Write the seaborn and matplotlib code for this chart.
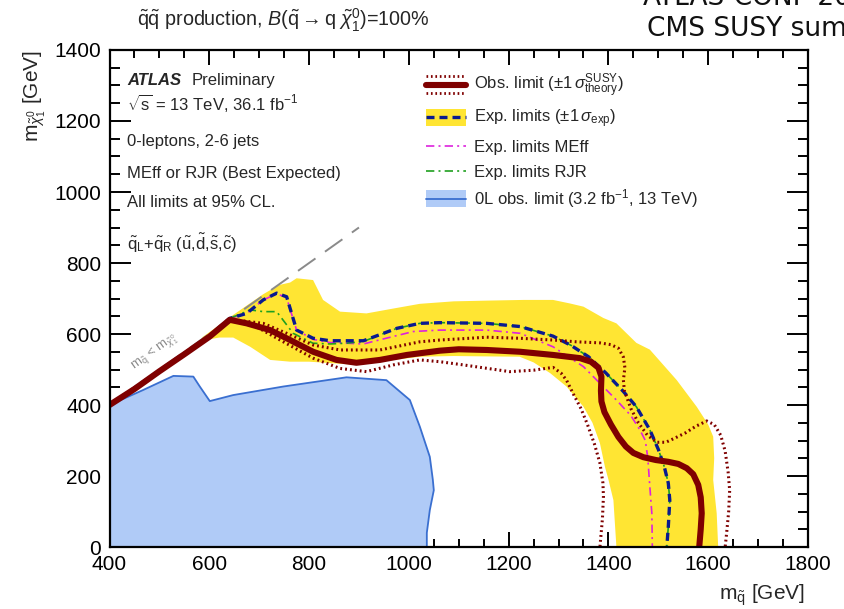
import matplotlib
matplotlib.use("Agg")
import matplotlib.pyplot as plt
import seaborn as sns
from matplotlib.lines import Line2D
from matplotlib.patches import Rectangle
from matplotlib.legend_handler import HandlerBase
from matplotlib.ticker import MultipleLocator

# ---- exclusion contours (m_squark, m_neutralino) in GeV ----
obs_x = [400, 450, 500, 550, 600, 641, 675, 722, 762, 808, 855, 895, 942, 996, 1062,
         1100, 1156, 1223, 1289, 1343, 1365, 1380, 1386, 1385, 1386, 1392, 1405, 1420,
         1435, 1450, 1470, 1495, 1520, 1540, 1557, 1570, 1580, 1585, 1587, 1585, 1582]
obs_y = [400, 445, 495, 543, 592, 640, 630, 611, 583, 550, 527, 519, 527, 541, 553,
         557, 555, 550, 541, 532, 522, 505, 480, 440, 410, 380, 345, 310,
         283, 265, 253, 245, 240, 234, 222, 205, 175, 140, 95, 50, 0]

obs_up_x = [400, 500, 600, 641, 655, 708, 755, 808, 862, 942, 1022, 1062, 1122, 1156,
            1222, 1289, 1336, 1383, 1405, 1420, 1430, 1433, 1430, 1432, 1445, 1460,
            1478, 1497, 1515, 1535, 1555, 1575, 1597, 1612, 1625, 1634, 1640, 1643,
            1641, 1637, 1634]
obs_up_y = [400, 495, 592, 640, 639, 630, 602, 569, 555, 555, 578, 583, 588, 591,
            588, 583, 578, 575, 570, 560, 535, 505, 470, 440, 390, 350,
            315, 295, 295, 308, 322, 340, 355, 345, 315, 270, 210, 160,
            100, 40, 0]

obs_dn_x = [400, 500, 600, 641, 648, 695, 742, 808, 862, 915, 969, 1022, 1062, 1109,
            1202, 1250, 1289, 1305, 1316, 1330, 1345, 1358, 1372, 1383, 1389, 1390,
            1388, 1383]
obs_dn_y = [400, 495, 592, 640, 637, 620, 583, 532, 503, 494, 513, 527, 522, 513,
            494, 498, 506, 490, 470, 430, 390, 345, 290, 236, 180, 142, 80, 0]

exp_x = [400, 500, 600, 641, 675, 708, 735, 755, 765, 775, 808, 842, 909, 976, 1022,
         1062, 1156, 1223, 1289, 1325, 1360, 1395, 1430, 1456, 1483, 1500, 1512, 1520,
         1523, 1520, 1517]
exp_y = [400, 497, 595, 644, 658, 696, 715, 705, 658, 611, 588, 581, 581, 616, 630,
         632, 630, 621, 594, 568, 536, 490, 438, 395, 330, 275, 226, 180,
         132, 57, 0]

meff_x = [400, 500, 600, 641, 675, 708, 735, 755, 765, 775, 808, 842, 909, 960, 1009,
          1062, 1156, 1223, 1289, 1350, 1416, 1445, 1463, 1474, 1479, 1482, 1487, 1488]
meff_y = [400, 497, 595, 644, 658, 696, 713, 703, 656, 611, 585, 576, 572, 590, 607,
          611, 611, 602, 564, 508, 414, 370, 330, 300, 250, 189, 95, 0]

rjr_x = [400, 500, 600, 641, 660, 682, 708, 735, 748, 768, 808, 842, 875, 909, 976,
         1022, 1062, 1156, 1223, 1289, 1325, 1360, 1395, 1430, 1456, 1483, 1500, 1512,
         1520, 1523, 1520, 1517]
rjr_y = [400, 497, 595, 644, 655, 668, 663, 663, 639, 602, 574, 572, 574, 579, 616,
         630, 632, 630, 621, 594, 568, 536, 490, 438, 395, 330, 275, 226,
         180, 132, 57, 0]

# +-1 sigma expected band: outer edge then inner edge, as one closed outline
band_x = [585, 620, 642, 675, 708, 740, 762, 775, 808, 818, 828, 862, 915, 970, 1022,
          1090, 1156, 1230, 1289, 1323, 1350, 1390, 1416, 1456, 1483, 1537, 1577, 1600,
          1610, 1612, 1610, 1617, 1620,
          1416, 1410, 1400, 1393, 1383, 1368, 1350, 1316, 1283, 1250, 1222, 1150, 1090,
          1022, 960, 900, 875, 800, 762, 722, 682, 648, 620, 600]
band_y = [590, 625, 648, 680, 712, 738, 745, 757, 752, 724, 696, 663, 658, 672, 685,
          692, 694, 696, 696, 686, 677, 645, 630, 575, 556, 470, 395, 345,
          311, 250, 189, 95, 0,
          0, 132, 190, 226, 292, 350, 395, 452, 490, 520, 536, 537, 538,
          536, 525, 514, 515, 522, 522, 527, 564, 590, 590, 585]

# earlier 3.2 fb-1 result (filled excluded region)
old_x = [400, 400, 467, 528, 568, 581, 601, 648, 748, 875, 955, 1002, 1022, 1042,
         1048, 1050, 1042, 1036, 1036]
old_y = [0, 400, 442, 482, 480, 452, 411, 428, 452, 478, 470, 414, 339, 254,
         190, 160, 104, 40, 0]

# kinematic boundary m_neutralino = m_squark
diag_x = [400, 900]
diag_y = [400, 900]

x_ticks = [400, 600, 800, 1000, 1200, 1400, 1600, 1800]
y_ticks = [0, 200, 400, 600, 800, 1000, 1200, 1400]

# ---- colours ----
C_OBS = "#7f0000"
C_EXP = "#0a1a8f"
C_BAND = "#ffe533"
C_MEFF = "#dd22dd"
C_RJR = "#1fa01f"
C_OLD_FILL = "#b0cbf7"
C_OLD_LINE = "#3a6fd0"
FS = 12

sns.set_theme(style="ticks")
plt.rcParams["font.family"] = ["Liberation Sans", "DejaVu Sans"]
plt.rcParams["mathtext.fontset"] = "custom"
plt.rcParams["mathtext.rm"] = "Liberation Sans"
plt.rcParams["mathtext.it"] = "Liberation Sans:italic"
plt.rcParams["mathtext.bf"] = "Liberation Sans:bold"
plt.rcParams["mathtext.sf"] = "Liberation Sans"

fig = plt.figure(figsize=(8.45, 6.09), dpi=100)
ax = fig.add_axes([0.1296, 0.1018, 0.8266, 0.8161])


def line(x, y, **kw):
    sns.lineplot(x=x, y=y, sort=False, estimator=None, ax=ax, legend=False, **kw)
    return ax.lines[-1]


# earlier result
ax.fill(old_x, old_y, color=C_OLD_FILL, lw=0, zorder=1)
line(old_x[1:], old_y[1:], color=C_OLD_LINE, lw=1.3, zorder=2)

# expected band
ax.fill(band_x, band_y, color=C_BAND, lw=0, zorder=3)

# kinematic limit
l = line(diag_x, diag_y, color="#8a8a8a", lw=1.4, zorder=4)
l.set_dashes([11, 6])
ax.text(491, 548, r"m$_{\tilde{\mathrm{q}}}$ < m$_{\tilde{\chi}^{0}_{1}}$", color="#8a8a8a",
        fontsize=9.5, rotation=36, rotation_mode="anchor", ha="center", va="center",
        zorder=4)

l = line(meff_x, meff_y, color=C_MEFF, lw=1.2, zorder=5)
l.set_dashes([5, 2.5, 1.2, 2.5])
l = line(rjr_x, rjr_y, color=C_RJR, lw=1.2, zorder=5)
l.set_dashes([5, 2.5, 1.2, 2.5])
l = line(exp_x, exp_y, color=C_EXP, lw=2.4, zorder=6)
l.set_dashes([2.4, 1.5])

for xs, ys in [(obs_up_x, obs_up_y), (obs_dn_x, obs_dn_y)]:
    l = line(xs, ys, color=C_OBS, lw=2.2, zorder=7)
    l.set_dashes([0.6, 1.0])
    l.set_dash_capstyle("butt")
line(obs_x, obs_y, color=C_OBS, lw=4.4, zorder=8)

# ---- axes ----
ax.set_xlim(400, 1800)
ax.set_ylim(0, 1400)
ax.set_xticks(x_ticks)
ax.set_yticks(y_ticks)
ax.set_xticklabels([str(v) for v in x_ticks])
ax.set_yticklabels([str(v) for v in y_ticks])
ax.xaxis.set_minor_locator(MultipleLocator(50))
ax.yaxis.set_minor_locator(MultipleLocator(50))
ax.tick_params(axis="both", which="both", direction="in", top=True, right=True,
               colors="black", width=1.4, labelsize=15)
ax.tick_params(axis="x", which="major", length=11, pad=6)
ax.tick_params(axis="x", which="minor", length=6)
ax.tick_params(axis="y", which="major", length=15, pad=6)
ax.tick_params(axis="y", which="minor", length=7.5)
for s in ax.spines.values():
    s.set_linewidth(1.6)
    s.set_color("black")
    s.set_zorder(10)

ax.set_xlabel(r"m$_{\tilde{\mathrm{q}}}$ [GeV]", fontsize=15, ha="right")
ax.xaxis.set_label_coords(0.996, -0.072)
ax.set_ylabel(r"m$_{\tilde{\chi}^{0}_{1}}$ [GeV]", fontsize=15, ha="right")
ax.yaxis.set_label_coords(-0.088, 1.0)

# ---- annotation block ----
tx = 0.025
ax.text(tx, 0.9396, "ATLAS", fontsize=FS, fontweight="bold", fontstyle="italic",
        transform=ax.transAxes, va="center")
ax.text(0.1177, 0.9396, "Preliminary", fontsize=FS, transform=ax.transAxes, va="center")
ax.text(tx, 0.8934, r"$\sqrt{\mathrm{s}}$ = 13 TeV, 36.1 fb$^{-1}$", fontsize=FS,
        transform=ax.transAxes, va="center")
ax.text(tx, 0.8169, "0-leptons, 2-6 jets", fontsize=FS, transform=ax.transAxes, va="center")
ax.text(tx, 0.7525, "MEff or RJR (Best Expected)", fontsize=FS, transform=ax.transAxes,
        va="center")
ax.text(tx, 0.6922, "All limits at 95% CL.", fontsize=FS, transform=ax.transAxes, va="center")
ax.text(tx, 0.6117,
        r"$\tilde{\mathrm{q}}_{\mathrm{L}}$+$\tilde{\mathrm{q}}_{\mathrm{R}}$ "
        r"($\tilde{\mathrm{u}}$,$\tilde{\mathrm{d}}$,$\tilde{\mathrm{s}}$,$\tilde{\mathrm{c}}$)",
        fontsize=FS, transform=ax.transAxes, va="center")


# ---- legend ----
class StyleHandler(HandlerBase):
    def __init__(self, spec):
        super().__init__()
        self.spec = spec

    def create_artists(self, legend, orig_handle, xdescent, ydescent, width, height,
                       fontsize, trans):
        x0, y0 = -xdescent, -ydescent
        arts = []
        kind = self.spec["kind"]
        if kind == "obs":
            for frac in (0.0, 1.0):
                l = Line2D([x0, x0 + width], [y0 + frac * height] * 2, color=C_OBS, lw=2.0,
                           transform=trans)
                l.set_dashes([0.6, 1.0])
                arts.append(l)
            arts.append(Line2D([x0, x0 + width], [y0 + 0.5 * height] * 2, color=C_OBS,
                               lw=4.4, transform=trans))
        else:
            if "fill" in self.spec:
                arts.append(Rectangle((x0, y0), width, height, facecolor=self.spec["fill"],
                                      lw=0, transform=trans))
            l = Line2D([x0, x0 + width], [y0 + 0.5 * height] * 2, color=self.spec["color"],
                       lw=self.spec["lw"], transform=trans)
            if "dashes" in self.spec:
                l.set_dashes(self.spec["dashes"])
            arts.append(l)
        return arts


specs = [
    ({"kind": "obs"}, r"Obs. limit ($\pm 1\,\sigma^{\mathrm{SUSY}}_{\mathrm{theory}}$)"),
    ({"kind": "line", "fill": C_BAND, "color": C_EXP, "lw": 2.4, "dashes": [2.4, 1.5]},
     r"Exp. limits ($\pm 1\,\sigma_{\mathrm{exp}}$)"),
    ({"kind": "line", "color": C_MEFF, "lw": 1.2, "dashes": [5, 2.5, 1.2, 2.5]},
     "Exp. limits MEff"),
    ({"kind": "line", "color": C_RJR, "lw": 1.2, "dashes": [5, 2.5, 1.2, 2.5]},
     "Exp. limits RJR"),
    ({"kind": "line", "fill": C_OLD_FILL, "color": C_OLD_LINE, "lw": 1.3},
     r"0L obs. limit (3.2 fb$^{-1}$, 13 TeV)"),
]
handles = [Line2D([], [], label=str(i)) for i in range(len(specs))]
hmap = {h: StyleHandler(s) for h, (s, _) in zip(handles, specs)}
ax.legend(handles, [t for _, t in specs], handler_map=hmap, loc="upper left",
          bbox_to_anchor=(0.4531, 0.9557), frameon=False, fontsize=FS, borderpad=0,
          borderaxespad=0, handlelength=2.4, handleheight=1.2, handletextpad=0.5,
          labelspacing=0.45)

# ---- header texts ----
fig.text(137 / 845, 1 - 20 / 609,
         r"$\tilde{\mathrm{q}}\tilde{\mathrm{q}}$ production, $B(\tilde{\mathrm{q}}"
         r"\rightarrow \mathrm{q}\;\tilde{\chi}^{0}_{1})$=100%",
         fontsize=14.2, va="center", ha="left")
fig.text(643 / 845, 1 - 5 / 609, "ATLAS-CONF-2017-022", fontsize=19,
         family="DejaVu Sans", va="baseline", ha="left", color="#111111")
fig.text(647 / 845, 1 - 36 / 609, "CMS SUSY summary", fontsize=19,
         family="DejaVu Sans", va="baseline", ha="left", color="#111111")

fig.savefig("out.png", dpi=100)
